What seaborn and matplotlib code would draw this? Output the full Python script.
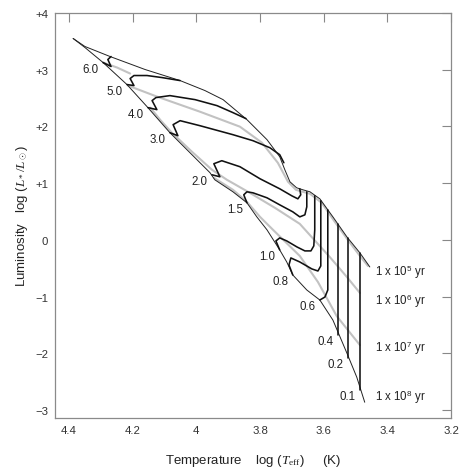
import matplotlib
matplotlib.use("Agg")
import matplotlib.pyplot as plt
import seaborn as sns

# log Teff / log L values
birth_T = [4.387, 4.350, 4.271, 4.161, 4.051, 3.973, 3.916, 3.841, 3.778, 3.738, 3.722,
           3.706, 3.685, 3.665, 3.643, 3.612, 3.571, 3.527, 3.486, 3.455]
birth_L = [3.551, 3.410, 3.233, 3.004, 2.809, 2.633, 2.473, 2.120, 1.767, 1.466, 1.237,
           1.025, 0.919, 0.883, 0.848, 0.724, 0.406, 0.053, -0.230, -0.477]

zams_T = [4.387, 4.350, 4.293, 4.218, 4.155, 4.083, 4.020, 3.957, 3.942, 3.885, 3.841,
          3.810, 3.778, 3.738, 3.716, 3.697, 3.653, 3.612, 3.571, 3.527, 3.496, 3.471]
zams_L = [3.551, 3.392, 3.127, 2.739, 2.350, 1.890, 1.537, 1.184, 1.060, 0.848, 0.654,
          0.406, 0.177, -0.177, -0.389, -0.618, -0.883, -1.060, -1.413, -1.996, -2.420, -2.862]

masses = ["6.0", "5.0", "4.0", "3.0", "2.0", "1.5", "1.0", "0.8", "0.6", "0.4", "0.2", "0.1"]
track_T = [
    [4.293, 4.268, 4.278, 4.268],
    [4.218, 4.196, 4.208, 4.196, 4.155, 4.108, 4.051],
    [4.152, 4.124, 4.139, 4.127, 4.083, 4.004, 3.935, 3.885, 3.844],
    [4.083, 4.058, 4.073, 4.051, 3.989, 3.885, 3.822, 3.769, 3.738, 3.725],
    [3.951, 3.926, 3.945, 3.920, 3.863, 3.800, 3.738, 3.700, 3.681, 3.672, 3.675],
    [3.841, 3.851, 3.841, 3.822, 3.778, 3.738, 3.697, 3.675, 3.659, 3.653, 3.653],
    [3.738, 3.750, 3.738, 3.716, 3.684, 3.659, 3.640, 3.631, 3.628, 3.628],
    [3.697, 3.709, 3.703, 3.675, 3.637, 3.618, 3.609, 3.609, 3.609],
    [3.612, 3.596, 3.587, 3.587, 3.587],
    [3.555, 3.555],
    [3.524, 3.524],
    [3.486, 3.486],
]
track_L = [
    [3.127, 3.057, 3.180, 3.233],
    [2.739, 2.721, 2.845, 2.898, 2.898, 2.862, 2.809],
    [2.332, 2.297, 2.456, 2.509, 2.544, 2.473, 2.367, 2.244, 2.138],
    [1.890, 1.837, 2.032, 2.102, 2.014, 1.855, 1.749, 1.625, 1.502, 1.360],
    [1.148, 1.113, 1.343, 1.396, 1.290, 1.078, 0.901, 0.777, 0.724, 0.795, 0.901],
    [0.654, 0.795, 0.848, 0.830, 0.742, 0.618, 0.495, 0.406, 0.442, 0.583, 0.848],
    [-0.177, -0.018, 0.035, -0.018, -0.124, -0.194, -0.194, -0.106, 0.177, 0.777],
    [-0.618, -0.442, -0.318, -0.389, -0.512, -0.548, -0.459, 0.0, 0.689],
    [-1.060, -1.007, -0.883, -0.177, 0.530],
    [-1.678, 0.283],
    [-2.085, 0.035],
    [-2.650, -0.230],
]

# grey isochrones
iso_T = [
    [4.293, 4.249, 4.208],
    [4.215, 4.124, 3.989, 3.863, 3.794, 3.744, 3.712, 3.687, 3.643, 3.606, 3.565, 3.524, 3.486, 3.461],
    [4.145, 4.111, 4.077, 4.014, 3.951, 3.904, 3.832, 3.753, 3.675, 3.621, 3.581, 3.527, 3.486],
    [3.945, 3.885, 3.841, 3.800, 3.759, 3.675, 3.618, 3.559, 3.486],
]
iso_L = [
    [3.127, 3.039, 2.933],
    [2.721, 2.527, 2.261, 1.996, 1.714, 1.360, 1.025, 0.883, 0.813, 0.654, 0.318, 0.0, -0.283, -0.459],
    [2.332, 2.100, 1.890, 1.555, 1.237, 1.060, 0.830, 0.565, 0.283, -0.053, -0.300, -0.654, -0.936],
    [1.095, 0.883, 0.671, 0.406, 0.177, -0.283, -0.742, -1.343, -1.855],
]
iso_labels = [r"1 x 10$^{\mathsf{5}}$ yr", r"1 x 10$^{\mathsf{6}}$ yr",
              r"1 x 10$^{\mathsf{7}}$ yr", r"1 x 10$^{\mathsf{8}}$ yr"]
iso_label_L = [-0.55, -1.06, -1.89, -2.76]

sns.set_theme(style="white")
plt.rcParams["font.family"] = ["Liberation Sans", "DejaVu Sans"]
plt.rcParams["mathtext.fontset"] = "custom"
plt.rcParams["mathtext.rm"] = "Liberation Serif"
plt.rcParams["mathtext.it"] = "Liberation Serif:italic"
plt.rcParams["mathtext.sf"] = "Liberation Sans"

fig = plt.figure(figsize=(4.67, 4.77), dpi=100)
ax = fig.add_axes([0.1178, 0.1216, 0.8479, 0.849])

grey = "#c2c2c2"
for t, l in zip(iso_T, iso_L):
    sns.lineplot(x=t, y=l, ax=ax, color=grey, lw=1.5, sort=False, estimator=None)

sns.lineplot(x=birth_T, y=birth_L, ax=ax, color="#222222", lw=0.7, sort=False, estimator=None)
sns.lineplot(x=zams_T, y=zams_L, ax=ax, color="#222222", lw=0.7, sort=False, estimator=None)

for m, t, l in zip(masses, track_T, track_L):
    sns.lineplot(x=t, y=l, ax=ax, color="#111111", lw=1.15, sort=False, estimator=None)
    ax.annotate(m, (t[0], l[0]), xytext=(-3, 0), textcoords="offset points",
                ha="right", va="top", fontsize=8.3, color="#222222")

for lab, yl in zip(iso_labels, iso_label_L):
    ax.text(3.44, yl, lab, fontsize=8.3, va="center", ha="left", color="#222222")

ax.set_xlim(4.444, 3.2)
ax.set_ylim(-3.14, 4.0)
ax.set_xticks([4.4, 4.2, 4.0, 3.8, 3.6, 3.4, 3.2])
ax.set_xticklabels(["4.4", "4.2", "4", "3.8", "3.6", "3.4", "3.2"])
ax.set_yticks([4, 3, 2, 1, 0, -1, -2, -3])
ax.set_yticklabels(["+4", "+3", "+2", "+1", "0", "\u22121", "\u22122", "\u22123"])
ax.tick_params(direction="in", length=6.5, width=0.8, color="#888888", labelsize=8.2,
               labelcolor="#333333", top=True, right=True, pad=5)
for s in ax.spines.values():
    s.set_color("#8a8a8a")
    s.set_linewidth(0.9)

ax.set_xlabel(r"Temperature    log ($T_{\rm eff}$)     (K)", fontsize=9.5, color="#222222", labelpad=12)
ax.set_ylabel(r"Luminosity   log ($L_*/L_\odot$)", fontsize=9.5, color="#222222")
ax.yaxis.set_label_coords(-0.063, 0.5)

fig.savefig("out.png", dpi=100)
